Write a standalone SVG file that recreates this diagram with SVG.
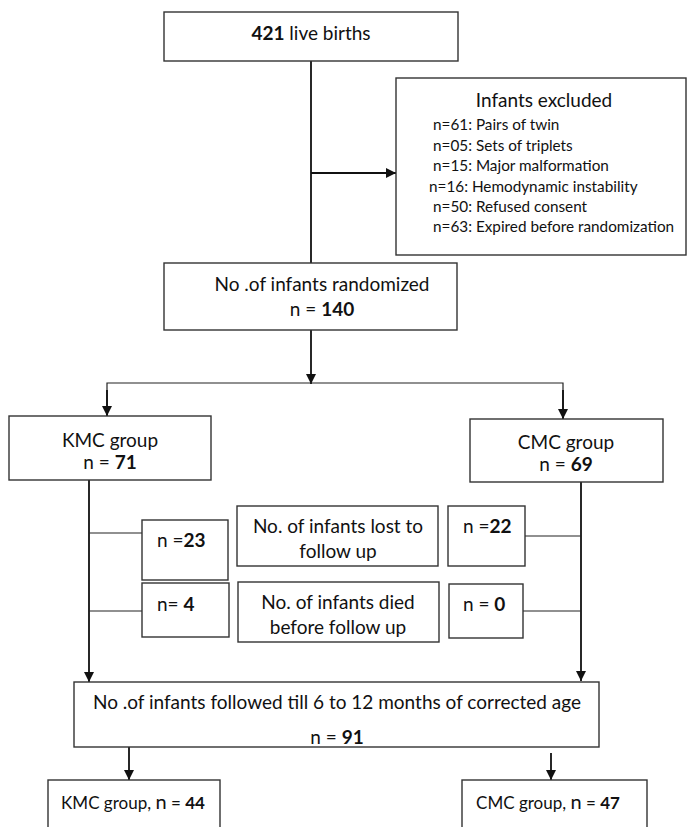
<svg xmlns="http://www.w3.org/2000/svg" width="688" height="827" viewBox="0 0 688 827">
<style>
.box{fill:#fff;stroke:#333;stroke-width:1.4}
.t{font-family:Lato,"Open Sans",sans-serif;font-size:19px;fill:#111}
.s{font-family:Lato,"Open Sans",sans-serif;font-size:15.3px;fill:#111}
.c{text-anchor:middle}
.b{font-weight:bold}
.ln{fill:none;stroke:#111;stroke-width:1.8}
.thin{fill:none;stroke:#222;stroke-width:1.2}
</style>
<defs>
<marker id="ah" viewBox="0 0 10 10" refX="10" refY="5" markerWidth="10" markerHeight="10" markerUnits="userSpaceOnUse" orient="auto">
<path d="M0,0 L10,5 L0,10 z" fill="#111"/>
</marker>
</defs>
<g id="connectors">
<line class="ln" x1="311" y1="61" x2="311" y2="263"/>
<line class="ln" x1="311" y1="173" x2="396" y2="173" marker-end="url(#ah)"/>
<line class="ln" x1="311" y1="330" x2="311" y2="384" marker-end="url(#ah)"/>
<polyline class="thin" points="107,416 107,383 563,383 563,419"/>
<line class="ln" x1="107" y1="390" x2="107" y2="416" marker-end="url(#ah)"/>
<line class="ln" x1="563" y1="390" x2="563" y2="419" marker-end="url(#ah)"/>
<line class="ln" x1="89" y1="480" x2="89" y2="682" marker-end="url(#ah)"/>
<line class="thin" x1="89" y1="533" x2="157" y2="533"/>
<line class="thin" x1="89" y1="611" x2="156" y2="611"/>
<line class="ln" x1="581" y1="482" x2="581" y2="681" marker-end="url(#ah)"/>
<line class="thin" x1="525" y1="536" x2="581" y2="536"/>
<line class="thin" x1="523" y1="611" x2="581" y2="611"/>
<line class="ln" x1="129" y1="747" x2="129" y2="780" marker-end="url(#ah)"/>
<line class="ln" x1="551" y1="753" x2="551" y2="780" marker-end="url(#ah)"/>
</g>
<g id="live-births">
<rect class="box" x="164" y="12" width="294" height="49"/>
<text class="t c" x="311" y="40"><tspan class="b">421</tspan> live births</text>
</g>
<g id="excluded">
<rect class="box" x="396" y="78" width="290" height="177"/>
<text class="t c" x="544" y="107">Infants excluded</text>
<text class="s" x="433" y="130">n=61: Pairs of twin</text>
<text class="s" x="433" y="151">n=05: Sets of triplets</text>
<text class="s" x="433" y="171">n=15: Major malformation</text>
<text class="s" x="429" y="192">n=16: Hemodynamic instability</text>
<text class="s" x="433" y="212">n=50: Refused consent</text>
<text class="s" x="433" y="232">n=63: Expired before randomization</text>
</g>
<g id="randomized">
<rect class="box" x="164" y="263" width="293" height="67"/>
<text class="t c" x="322" y="291">No .of infants randomized</text>
<text class="t c" x="322" y="316">n = <tspan class="b">140</tspan></text>
</g>
<g id="kmc">
<rect class="box" x="9" y="416" width="202" height="64"/>
<text class="t c" x="110" y="447">KMC group</text>
<text class="t c" x="110" y="469">n = <tspan class="b">71</tspan></text>
</g>
<g id="cmc">
<rect class="box" x="470" y="419" width="193" height="63"/>
<text class="t c" x="566" y="449">CMC group</text>
<text class="t c" x="566" y="471">n = <tspan class="b">69</tspan></text>
</g>
<g id="kmc-lost">
<rect class="box" x="142" y="520" width="86" height="60"/>
<text class="t" x="157" y="547">n =<tspan class="b">23</tspan></text>
</g>
<g id="kmc-died">
<rect class="box" x="142" y="583" width="87" height="54"/>
<text class="t" x="157" y="611">n= <tspan class="b">4</tspan></text>
</g>
<g id="lost-label">
<rect class="box" x="237" y="506" width="201" height="60"/>
<text class="t c" x="338" y="533">No. of infants lost to</text>
<text class="t c" x="338" y="558">follow up</text>
</g>
<g id="died-label">
<rect class="box" x="238" y="582" width="201" height="60"/>
<text class="t c" x="338" y="609">No. of infants died</text>
<text class="t c" x="338" y="634">before follow up</text>
</g>
<g id="cmc-lost">
<rect class="box" x="448" y="506" width="77" height="60"/>
<text class="t" x="463" y="533">n =<tspan class="b">22</tspan></text>
</g>
<g id="cmc-died">
<rect class="box" x="449" y="584" width="74" height="54"/>
<text class="t" x="463" y="611">n = <tspan class="b">0</tspan></text>
</g>
<g id="followed">
<rect class="box" x="74" y="682" width="525" height="65"/>
<text class="t c" x="337" y="709">No .of infants followed till 6 to 12 months of corrected age</text>
<text class="t c" x="337" y="744">n = <tspan class="b">91</tspan></text>
</g>
<g id="kmc-final">
<rect class="box" x="48" y="780" width="172" height="60"/>
<text class="t c" x="133" y="809" style="font-size:17px">KMC group, <tspan style="font-size:20px">n</tspan> = <tspan class="b">44</tspan></text>
</g>
<g id="cmc-final">
<rect class="box" x="462" y="780" width="185" height="60"/>
<text class="t c" x="548" y="809" style="font-size:17px">CMC group, <tspan style="font-size:20px">n</tspan> = <tspan class="b">47</tspan></text>
</g>
</svg>
